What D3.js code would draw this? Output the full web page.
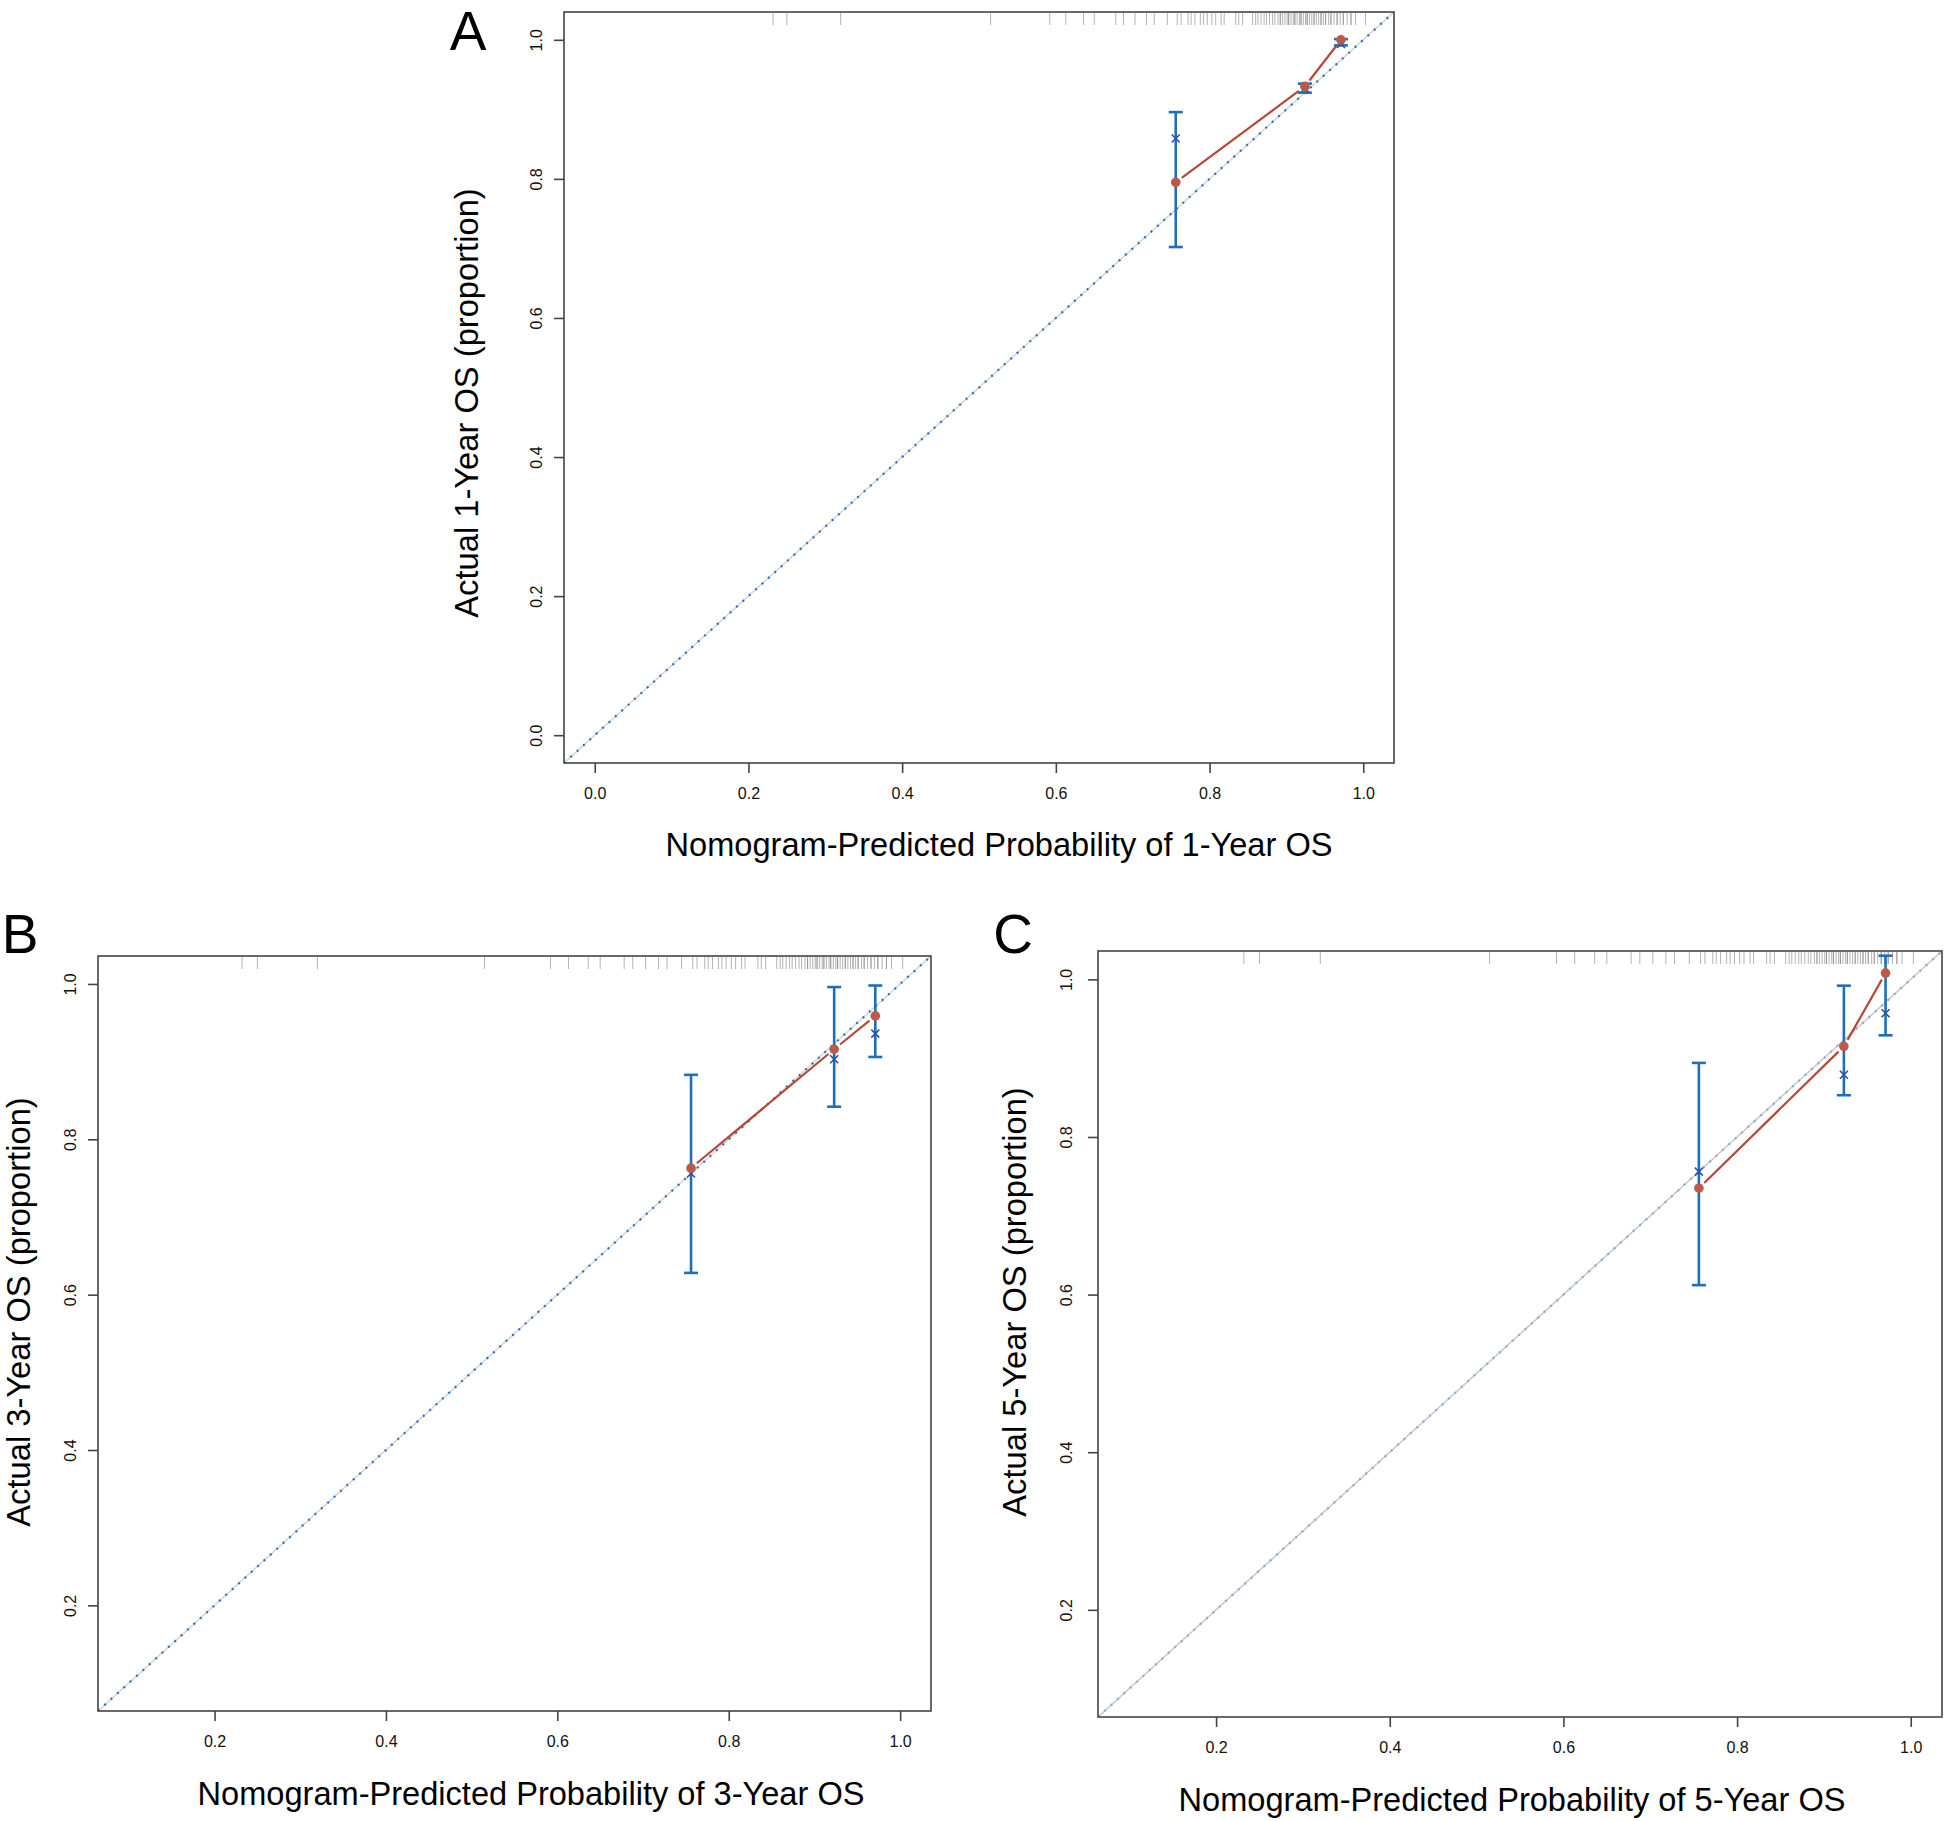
<!DOCTYPE html>
<html>
<head>
<meta charset="utf-8">
<script src="https://cdn.jsdelivr.net/npm/d3@7"></script>
<style>
  html, body { margin: 0; padding: 0; background: #fff; }
  svg { display: block; font-family: "Liberation Sans", Arial, sans-serif; }
</style>
</head>
<body>
<svg id="chart" width="1946" height="1821"></svg>
<script>
// ---------------- DATA ----------------
const panelLabels = ["A", "B", "C"];
const xTitles = [
  "Nomogram-Predicted Probability of 1-Year OS",
  "Nomogram-Predicted Probability of 3-Year OS",
  "Nomogram-Predicted Probability of 5-Year OS"
];
const yTitles = [
  "Actual 1-Year OS (proportion)",
  "Actual 3-Year OS (proportion)",
  "Actual 5-Year OS (proportion)"
];
const ticksA = [0.0, 0.2, 0.4, 0.6, 0.8, 1.0];
const ticksBC = [0.2, 0.4, 0.6, 0.8, 1.0];

// predicted (x) of groups
const predA = [0.756, 0.924, 0.971];
const predB = [0.756, 0.923, 0.971];
const predC = [0.756, 0.923, 0.971];
// observed (red dots)
const obsA = [0.795, 0.933, 1.000];
const obsB = [0.763, 0.916, 0.959];
const obsC = [0.735, 0.915, 1.008];
// bias-corrected KM (x marks)
const kmA = [0.858, 0.930, 0.994];
const kmB = [0.756, 0.903, 0.936];
const kmC = [0.756, 0.879, 0.957];
// error bar limits
const loA = [0.702, 0.924, 0.992];
const hiA = [0.896, 0.937, 1.001];
const loB = [0.628, 0.842, 0.906];
const hiB = [0.883, 0.996, 0.998];
const loC = [0.612, 0.853, 0.929];
const hiC = [0.894, 0.992, 1.030];

// rug of predicted probabilities (top of each panel)
const rugValues = [0.232, 0.250, 0.320, 0.515, 0.592, 0.613, 0.636, 0.650, 0.678, 0.688,
  0.703, 0.718, 0.728, 0.745, 0.758, 0.763, 0.772, 0.776, 0.781, 0.788, 0.792, 0.797,
  0.803, 0.808, 0.815, 0.819, 0.834, 0.838, 0.843, 0.856, 0.860, 0.863, 0.867, 0.871,
  0.874, 0.878, 0.882, 0.885, 0.889, 0.892, 0.895, 0.898, 0.901, 0.903, 0.906, 0.909,
  0.911, 0.914, 0.917, 0.919, 0.922, 0.925, 0.927, 0.930, 0.933, 0.936, 0.939, 0.942,
  0.945, 0.948, 0.951, 0.955, 0.958, 0.962, 0.966, 0.970, 0.974, 0.979, 0.984, 0.990, 1.003];
// values repeated among patients (darker rug strokes)
const rugDense = [0.892, 0.903, 0.911, 0.919, 0.927, 0.936, 0.945, 0.951, 0.958, 0.966, 0.974, 0.984];

// ---------------- LAYOUT ----------------
const panels = [
  { label: panelLabels[0], box: [564, 12, 1394, 763], dom: [-0.04, 1.04], ticks: ticksA,
    pred: predA, obs: obsA, km: kmA, lo: loA, hi: hiA,
    xTitle: xTitles[0], yTitle: yTitles[0],
    labelPos: [468, 50], xTitlePos: [999, 845], yTitlePos: [467, 403], yTickOff: 28,
    diagGray: "#d4d4d4", diagDot: "#2a6fbf" },
  { label: panelLabels[1], box: [98, 956, 931, 1711], dom: [0.064, 1.036], ticks: ticksBC,
    pred: predB, obs: obsB, km: kmB, lo: loB, hi: hiB,
    xTitle: xTitles[1], yTitle: yTitles[1],
    labelPos: [20, 953], xTitlePos: [531, 1794], yTitlePos: [19, 1312], yTickOff: 28,
    diagGray: "#d4d4d4", diagDot: "#2a6fbf" },
  { label: panelLabels[2], box: [1098, 951, 1942, 1717], dom: [0.064, 1.036], ticks: ticksBC,
    pred: predC, obs: obsC, km: kmC, lo: loC, hi: hiC,
    xTitle: xTitles[2], yTitle: yTitles[2],
    labelPos: [1013, 953], xTitlePos: [1512, 1800], yTitlePos: [1015, 1302], yTickOff: 32,
    diagGray: "#c8c8c8", diagDot: "#86acd8" }
];

const svg = d3.select("#chart");
const fmt = d3.format(".1f");

panels.forEach((p, i) => {
  const [x0, y0, x1, y1] = p.box;
  const x = d3.scaleLinear().domain(p.dom).range([x0, x1]);
  const y = d3.scaleLinear().domain(p.dom).range([y1, y0]);
  const g = svg.append("g");

  const clipId = "clip" + i;
  svg.append("clipPath").attr("id", clipId)
    .append("rect").attr("x", x0).attr("y", y0).attr("width", x1 - x0).attr("height", y1 - y0);
  const plot = g.append("g").attr("clip-path", `url(#${clipId})`);

  // rug
  plot.selectAll("line.rug").data(rugValues.concat(rugDense)).enter().append("line")
    .attr("x1", d => x(d)).attr("x2", d => x(d))
    .attr("y1", y0 + 1).attr("y2", y0 + 13)
    .attr("stroke", "#808080").attr("stroke-opacity", 0.6).attr("stroke-width", 1);

  // diagonal ideal line
  plot.append("line")
    .attr("x1", x(p.dom[0])).attr("y1", y(p.dom[0]))
    .attr("x2", x(p.dom[1])).attr("y2", y(p.dom[1]))
    .attr("stroke", p.diagGray).attr("stroke-width", 1.5);
  plot.append("line")
    .attr("x1", x(p.dom[0])).attr("y1", y(p.dom[0]))
    .attr("x2", x(p.dom[1])).attr("y2", y(p.dom[1]))
    .attr("stroke", p.diagDot).attr("stroke-width", 2.2)
    .attr("stroke-dasharray", "2 6.6");

  // error bars
  const ebColor = "#1f6fb8";
  const idx = d3.range(p.pred.length);
  idx.forEach(k => {
    const cx = x(p.pred[k]);
    g.append("line").attr("x1", cx).attr("x2", cx)
      .attr("y1", y(p.lo[k])).attr("y2", y(p.hi[k]))
      .attr("stroke", ebColor).attr("stroke-width", 2.6);
    [p.lo[k], p.hi[k]].forEach(v => {
      g.append("line").attr("x1", cx - 7).attr("x2", cx + 7)
        .attr("y1", y(v)).attr("y2", y(v))
        .attr("stroke", ebColor).attr("stroke-width", 2.6);
    });
  });

  // red line (type "b": gaps around points)
  const redLine = "#b24a37";
  for (let k = 0; k < p.pred.length - 1; k++) {
    const ax = x(p.pred[k]), ay = y(p.obs[k]);
    const bx = x(p.pred[k + 1]), by = y(p.obs[k + 1]);
    const len = Math.hypot(bx - ax, by - ay);
    const gap = 7.5;
    if (len > 2 * gap) {
      const ux = (bx - ax) / len, uy = (by - ay) / len;
      g.append("line")
        .attr("x1", ax + ux * gap).attr("y1", ay + uy * gap)
        .attr("x2", bx - ux * gap).attr("y2", by - uy * gap)
        .attr("stroke", redLine).attr("stroke-width", 2.2);
    }
  }

  // x marks (KM estimates)
  const xs = 4;
  idx.forEach(k => {
    const cx = x(p.pred[k]), cy = y(p.km[k]);
    g.append("path")
      .attr("d", `M${cx - xs},${cy - xs}L${cx + xs},${cy + xs}M${cx - xs},${cy + xs}L${cx + xs},${cy - xs}`)
      .attr("stroke", "#2e4fa8").attr("stroke-width", 1.6).attr("fill", "none");
  });

  // red dots
  g.selectAll("circle.obs").data(idx).enter().append("circle")
    .attr("cx", k => x(p.pred[k])).attr("cy", k => y(p.obs[k]))
    .attr("r", 4.8).attr("fill", "#bd5a47");

  // box
  g.append("rect").attr("x", x0).attr("y", y0).attr("width", x1 - x0).attr("height", y1 - y0)
    .attr("fill", "none").attr("stroke", "#444").attr("stroke-width", 1.6);

  // x axis
  const xa = g.append("g").attr("transform", `translate(0,${y1})`)
    .call(d3.axisBottom(x).tickValues(p.ticks).tickFormat(fmt).tickSize(10));
  xa.select(".domain").remove();
  xa.selectAll(".tick line").attr("stroke", "#444").attr("stroke-width", 1.6);
  xa.selectAll(".tick text").attr("y", 30).attr("dy", "0.35em")
    .attr("font-size", 16).attr("fill", "#111")
    .attr("font-family", "'Liberation Sans', Arial, sans-serif");

  // y axis
  const ya = g.append("g").attr("transform", `translate(${x0},0)`)
    .call(d3.axisLeft(y).tickValues(p.ticks).tickFormat(fmt).tickSize(10));
  ya.select(".domain").remove();
  ya.selectAll(".tick line").attr("stroke", "#444").attr("stroke-width", 1.6);
  ya.selectAll(".tick text")
    .attr("x", 0).attr("y", -p.yTickOff).attr("dy", "0.35em")
    .attr("text-anchor", "middle").attr("transform", "rotate(-90)")
    .attr("font-size", 16).attr("fill", "#111")
    .attr("font-family", "'Liberation Sans', Arial, sans-serif");

  // titles
  svg.append("text").attr("x", p.xTitlePos[0]).attr("y", p.xTitlePos[1])
    .attr("text-anchor", "middle").attr("dy", "0.35em")
    .attr("font-size", 32.6).attr("fill", "#000").text(p.xTitle);
  svg.append("text")
    .attr("transform", `translate(${p.yTitlePos[0]},${p.yTitlePos[1]}) rotate(-90)`)
    .attr("text-anchor", "middle").attr("dy", "0.35em")
    .attr("font-size", 32.7).attr("fill", "#000").text(p.yTitle);
  svg.append("text").attr("x", p.labelPos[0]).attr("y", p.labelPos[1])
    .attr("text-anchor", "middle")
    .attr("font-size", 55).attr("fill", "#000").text(p.label);
});
</script>
</body>
</html>
